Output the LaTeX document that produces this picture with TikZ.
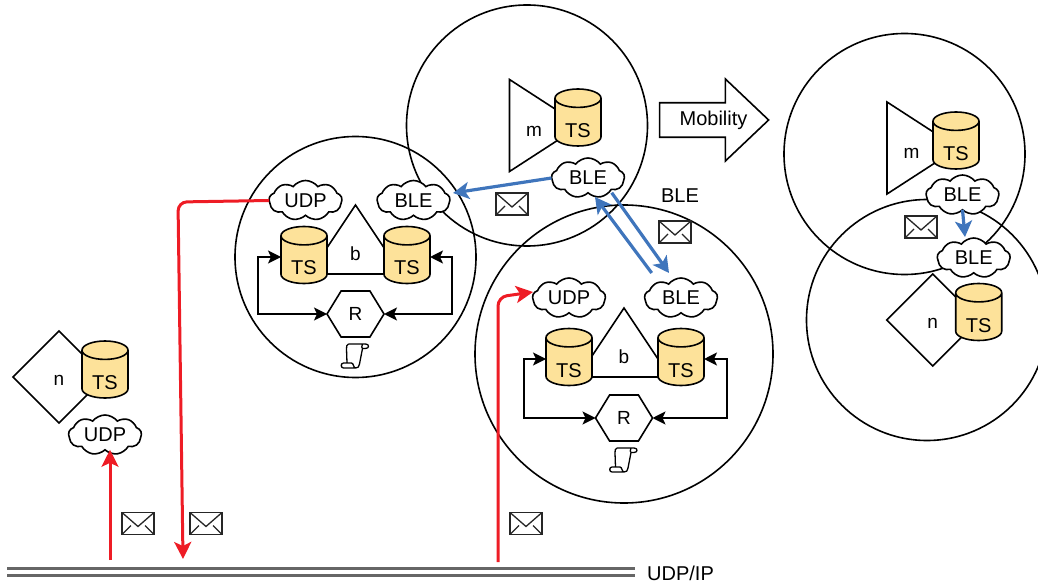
\documentclass[tikz,border=0pt]{standalone}
\usepackage{fontspec}
\setmainfont{Liberation Sans}
\usetikzlibrary{positioning}
\usetikzlibrary{arrows.meta}
\usetikzlibrary{shapes.geometric,shapes.symbols,shapes.arrows}
\definecolor{tsfill}{HTML}{FDE29A}
\definecolor{redflow}{HTML}{EE1C25}
\definecolor{blueflow}{HTML}{3F75BC}
\definecolor{busgray}{HTML}{666666}
\newcommand{\bigfont}{\fontsize{20}{24}\selectfont}
\newcommand{\midfont}{\fontsize{19}{22}\selectfont}
\newcommand{\lowtext}[2]{\raisebox{-#1}[0pt][0pt]{#2}}
\tikzset{
  base/.style={draw, line width=1.6pt, inner sep=0pt, outer sep=0pt},
  zone/.style={base, circle, minimum size=#1},
  store/.style={base, cylinder, shape border rotate=90, aspect=0.72, minimum width=46pt, minimum height=57pt, yshift=-3pt,
    cylinder uses custom fill, cylinder body fill=tsfill, cylinder end fill=tsfill, font=\bigfont},
  radio/.style={base, cloud, cloud puffs=9, cloud puff arc=105, aspect=1.9, fill=white, minimum width=73pt, minimum height=40pt, font=\bigfont},
  broker/.style={base, isosceles triangle, isosceles triangle stretches, shape border rotate=90, fill=white,
    minimum width=92pt, minimum height=69pt, font=\midfont},
  mobile/.style={base, isosceles triangle, isosceles triangle stretches, fill=white,
    minimum width=92pt, minimum height=71pt, font=\midfont},
  nodebox/.style={base, diamond, aspect=1, minimum width=92pt, minimum height=92pt, font=\midfont},
  router/.style={base, signal, signal to=east and west, signal pointer angle=117,
    minimum width=57pt, minimum height=46pt, fill=white, font=\midfont},
  mailbox/.style={draw=black!85, line width=1.6pt, fill=white, inner sep=0pt, minimum width=32pt, minimum height=22pt,
    path picture={
      \draw[line width=1.3pt] (path picture bounding box.north west) -- ([yshift=-14pt]path picture bounding box.north) -- (path picture bounding box.north east);
      \draw[line width=1.3pt] (path picture bounding box.south west) -- ++(9pt,9pt);
      \draw[line width=1.3pt] (path picture bounding box.south east) -- ++(-9pt,9pt);
    }},
  plain/.style={inner sep=0pt, font=\bigfont},
  link/.style={line width=1.6pt, {Stealth[length=13pt,width=13pt,inset=3pt]}-{Stealth[length=13pt,width=13pt,inset=3pt]}},
  redline/.style={draw=redflow, line width=3pt, rounded corners=9pt, -{Stealth[length=17pt,width=17pt,inset=4pt]}},
  blueline/.style={draw=blueflow, line width=3.2pt, -{Stealth[length=16pt,width=17pt,inset=4pt]}},
  bus/.style={draw=busgray, line width=3pt},
  pics/scrollicon/.style={code={
    \draw[line width=1.3pt, line join=round]
      (-7,-12) -- (10,-12) .. controls (14,-12) and (14,-7.5) .. (10,-7.5) -- (7,-7.5)
      .. controls (6,-7.5) and (6,-10) .. (7,-12)
      (-7,-12) .. controls (-9,-12) and (-9,-9) .. (-9,-7) -- (-8.5,7)
      (7,-7.5) -- (4,8) .. controls (4,11) and (2,12) .. (0,12) -- (-12,12)
      .. controls (-15,12) and (-15,7) .. (-12,7) -- (-4,7) .. controls (-2,7) and (-2,12) .. (0,12);
  }},
}
\begin{document}
\begin{tikzpicture}[x=1pt, y=-1pt, on grid, node distance=50pt]
  \clip (0,0) rectangle (1038,585);
  % zones
  \node (zoneA) [zone=241pt] at (355.5,257) {};
  \node (zoneM) [zone=241pt] at (527,125.5) {};
  \node (zoneB) [zone=298pt] at (624,354) {};
  \node (zoneR) [zone=241pt] at (904.5,154) {};
  \node (zoneS) [zone=241pt] at (927,320) {};

  % left broker
  \node (triA) [broker, anchor=lower side] at (355.5,274) {\lowtext{8pt}{b}};
  \node (routerA) [router] at (355.5,314) {R};
  \node (tsAl) [store, above left=57pt and 51.5pt of routerA] {\lowtext{15pt}{TS}};
  \node (tsAr) [store, above right=57pt and 51.5pt of routerA] {\lowtext{15pt}{TS}};
  \node (udpA) [radio, above=59.5pt of tsAl, xshift=1.5pt] {UDP};
  \node (bleA) [radio, above=59.5pt of tsAr, xshift=6.5pt] {BLE};
  \coordinate [below=42pt of routerA] (scrollA);
  \pic at (scrollA) {scrollicon};
  \draw[link] ([yshift=3pt]tsAl.west) -- ++(-23,0) |- (routerA.west);
  \draw[link] ([yshift=3pt]tsAr.east) -- ++(22,0) |- (routerA.east);

  % right broker
  \node (triB) [broker, anchor=lower side] at (624,377) {\lowtext{8pt}{b}};
  \node (routerB) [router] at (624,418) {R};
  \node (tsBl) [store, above left=59pt and 55pt of routerB] {\lowtext{15pt}{TS}};
  \node (tsBr) [store, above right=59pt and 57pt of routerB] {\lowtext{15pt}{TS}};
  \node (udpB) [radio, above=64pt of tsBl] {UDP};
  \node (bleB) [radio, above=64pt of tsBr] {BLE};
  \coordinate [below=42pt of routerB] (scrollB);
  \pic at (scrollB) {scrollicon};
  \draw[link] ([yshift=3pt]tsBl.west) -- ++(-22,0) |- (routerB.west);
  \draw[link] ([yshift=3pt]tsBr.east) -- ++(23,0) |- (routerB.east);

  % mobile node, before
  \node (triM) [mobile, anchor=lower side] at (509.5,125.5) {\lowtext{11pt}{m\hspace*{8pt}}};
  \node (tsM) [store] at (578,119.5) {\lowtext{15pt}{TS}};
  \node (bleM) [radio, below=55.5pt of tsM, xshift=10pt] {BLE};

  % mobile node, after
  \node (triR) [mobile, anchor=lower side] at (887,148) {\lowtext{11pt}{m\hspace*{8pt}}};
  \node (tsR) [store] at (956,142.5) {\lowtext{15pt}{TS}};
  \node (bleR) [radio, below=49.5pt of tsR, xshift=6.5pt] {BLE};

  % lone node, left
  \node (diaN) [nodebox] at (59,377) {\lowtext{8pt}{n}};
  \node (tsN) [store, right=46pt of diaN, yshift=5.5pt] {\lowtext{15pt}{TS}};
  \node (udpN) [radio, below=60.5pt of tsN] {UDP};

  % lone node, right
  \node (diaS) [nodebox] at (932.7,320) {\lowtext{8pt}{n}};
  \node (tsS) [store, right=46pt of diaS, yshift=6pt] {\lowtext{15pt}{TS}};
  \node (bleS) [radio, above=59pt of tsS, xshift=-5pt] {BLE};

  % mobility
  \node (moveA) [base, single arrow, single arrow head extend=23.5pt, single arrow tip angle=87, minimum height=109pt, minimum width=82pt,
    inner ysep=7pt, font=\bigfont] at (705,120) {\hspace*{17pt}Mobility};
  \node (bleLabel) [plain] at (680,196) {BLE};

  % mail
  \node (mailA) [mailbox] at (138,523.5) {};
  \node (mailB) [mailbox, right=68pt of mailA] {};
  \node (mailC) [mailbox, right=320pt of mailB] {};
  \node (mailD) [mailbox] at (512,204) {};
  \node (mailE) [mailbox] at (675,232) {};
  \node (mailF) [mailbox] at (921,227) {};

  % bus
  \coordinate (busL) at (7,568);
  \coordinate (busR) at (635,568);
  \draw[bus] (busL) -- (busR);
  \draw[bus] ([yshift=-7pt]busL) -- ([yshift=-7pt]busR);
  \node (busLabel) [plain, anchor=west] at (647,573) {UDP/IP};

  % udp traffic
  \coordinate (busUp) at (110,560);
  \coordinate (busDown) at (183,559);
  \coordinate (busIn) at (498,562);
  \coordinate (turnA) at (178,202);
  \coordinate (turnB) at (498,297);
  \coordinate (inB) at (533,292);
  \draw[redline] (busUp) -- (udpN.south -| busUp);
  \draw[redline] (udpA.west) -- (turnA) -- (busDown);
  \draw[redline] (busIn) -- (turnB) -- (inB);

  % ble traffic
  \coordinate (inA) at (453,193);
  \coordinate (outB) at (669,273);
  \coordinate (fromB) at (651.7,273);
  \coordinate (outM) at (611.7,192.7);
  \coordinate (inM) at (595,197);
  \coordinate (inS) at (965,237);
  \draw[blueline] (bleM.west) -- (inA);
  \draw[blueline] (fromB) -- (inM);
  \draw[blueline] (outM) -- (outB);
  \draw[blueline] (bleR.south) -- (inS);
\end{tikzpicture}
\end{document}
